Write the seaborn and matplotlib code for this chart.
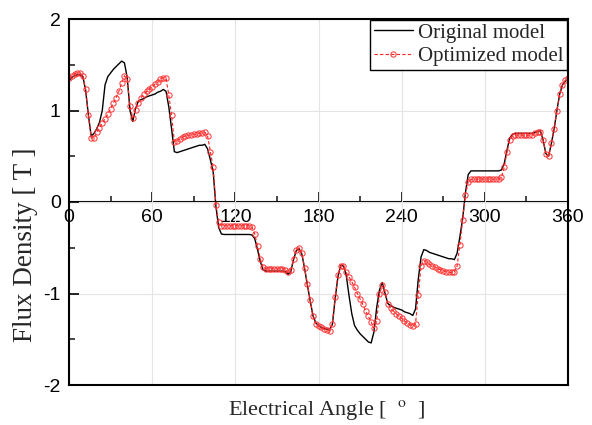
import matplotlib
matplotlib.use("Agg")
import matplotlib.pyplot as plt
from matplotlib.ticker import MultipleLocator
import seaborn as sns

# electrical angle grid (deg), read every 2 degrees
angle = list(range(0, 361, 2))

original = [
    1.33, 1.36, 1.38, 1.39, 1.39, 1.37, 1.22, 0.95, 0.72, 0.75,
    0.80, 0.87, 1.00, 1.28, 1.37, 1.41, 1.45, 1.48, 1.51, 1.54,
    1.52, 1.36, 1.00, 0.88, 1.02, 1.10, 1.12, 1.13, 1.15, 1.16,
    1.17, 1.18, 1.20, 1.21, 1.23, 1.21, 1.04, 0.80, 0.55, 0.54,
    0.55, 0.56, 0.57, 0.58, 0.59, 0.60, 0.61, 0.62, 0.62, 0.63,
    0.58, 0.46, 0.33, -0.05, -0.28, -0.35, -0.355, -0.355, -0.355, -0.355,
    -0.355, -0.355, -0.355, -0.355, -0.355, -0.355, -0.36, -0.40, -0.52, -0.65,
    -0.74, -0.755, -0.755, -0.755, -0.755, -0.755, -0.755, -0.755, -0.76, -0.79,
    -0.76, -0.63, -0.53, -0.51, -0.57, -0.73, -0.91, -1.08, -1.24, -1.32,
    -1.35, -1.37, -1.38, -1.39, -1.39, -1.34, -1.06, -0.82, -0.69, -0.70,
    -0.80, -1.02, -1.22, -1.35, -1.40, -1.44, -1.47, -1.50, -1.53, -1.54,
    -1.42, -1.15, -0.96, -0.88, -1.00, -1.11, -1.13, -1.15, -1.16, -1.17,
    -1.18, -1.20, -1.21, -1.22, -1.24, -1.17, -0.84, -0.60, -0.52, -0.53,
    -0.55, -0.56, -0.57, -0.58, -0.59, -0.60, -0.61, -0.62, -0.62, -0.63,
    -0.56, -0.38, -0.18, 0.10, 0.30, 0.34, 0.34, 0.34, 0.34, 0.34,
    0.34, 0.34, 0.34, 0.34, 0.34, 0.34, 0.35, 0.42, 0.57, 0.70,
    0.74, 0.75, 0.75, 0.75, 0.75, 0.75, 0.75, 0.75, 0.76, 0.77,
    0.78, 0.68, 0.53, 0.50, 0.64, 0.80, 1.00, 1.18, 1.28, 1.32,
    1.34,
]

optimized = [
    1.36, 1.38, 1.40, 1.41, 1.41, 1.38, 1.23, 0.95, 0.70, 0.70,
    0.76, 0.81, 0.86, 0.91, 0.96, 1.02, 1.08, 1.14, 1.21, 1.30,
    1.38, 1.34, 1.05, 0.92, 1.01, 1.08, 1.14, 1.18, 1.21, 1.24,
    1.26, 1.29, 1.31, 1.34, 1.36, 1.35, 1.17, 0.95, 0.66, 0.67,
    0.69, 0.71, 0.72, 0.73, 0.73, 0.74, 0.74, 0.75, 0.75, 0.76,
    0.72, 0.55, 0.38, -0.03, -0.22, -0.26, -0.26, -0.26, -0.26, -0.26,
    -0.26, -0.26, -0.26, -0.26, -0.26, -0.26, -0.27, -0.35, -0.48, -0.62,
    -0.71, -0.73, -0.73, -0.73, -0.73, -0.73, -0.73, -0.73, -0.74, -0.77,
    -0.74, -0.62, -0.52, -0.50, -0.56, -0.72, -0.90, -1.07, -1.25, -1.33,
    -1.35, -1.37, -1.39, -1.40, -1.41, -1.33, -1.04, -0.80, -0.70, -0.70,
    -0.77, -0.82, -0.87, -0.93, -1.00, -1.06, -1.12, -1.19, -1.25, -1.31,
    -1.38, -1.30, -1.01, -0.91, -0.98, -1.11, -1.16, -1.19, -1.22, -1.25,
    -1.27, -1.30, -1.32, -1.34, -1.36, -1.33, -1.02, -0.70, -0.64, -0.66,
    -0.68, -0.70, -0.71, -0.73, -0.74, -0.75, -0.76, -0.77, -0.77, -0.76,
    -0.70, -0.47, -0.20, 0.08, 0.22, 0.25, 0.25, 0.25, 0.25, 0.25,
    0.25, 0.25, 0.25, 0.25, 0.25, 0.25, 0.27, 0.38, 0.55, 0.68,
    0.72, 0.73, 0.73, 0.73, 0.73, 0.73, 0.73, 0.73, 0.75, 0.77,
    0.76, 0.68, 0.53, 0.50, 0.64, 0.80, 1.00, 1.18, 1.28, 1.33,
    1.36,
]

sns.set_theme(style="white")
plt.rcParams["font.family"] = ["Liberation Sans", "DejaVu Sans"]
plt.rcParams["axes.unicode_minus"] = False
plt.rcParams["mathtext.fontset"] = "stix"
serif = ["Liberation Serif", "DejaVu Serif"]

fig = plt.figure(figsize=(5.92, 4.25), dpi=100)
ax = fig.add_axes([69 / 592, 1 - 385 / 425, 499 / 592, 366 / 425])

sns.lineplot(x=angle, y=original, ax=ax, color="black", lw=1.0,
             label="Original model")
sns.lineplot(x=angle, y=optimized, ax=ax, color="#ff2020", lw=0.8,
             linestyle=(0, (3, 2)), marker="o", markersize=3.8,
             markerfacecolor="none", markeredgecolor="#ff3030",
             markeredgewidth=0.7, label="Optimized model")

ax.set_xlim(0, 360)
ax.set_ylim(-2, 2)

# frame
for s in ax.spines.values():
    s.set_visible(True)
    s.set_color("black")
    s.set_linewidth(1.5)

# grid
ax.xaxis.set_major_locator(MultipleLocator(60))
ax.yaxis.set_major_locator(MultipleLocator(1))
ax.yaxis.set_minor_locator(MultipleLocator(0.5))
ax.grid(True, which="major", color="#e4e4e4", lw=0.8)
ax.tick_params(axis="x", which="both", bottom=False, labelbottom=False)
ax.tick_params(axis="y", which="major", direction="in", length=7, width=1.2,
               labelsize=14, pad=6, colors="black")
ax.tick_params(axis="y", which="minor", direction="in", length=4, width=1.2)
ax.tick_params(axis="y", which="both", left=True)

# x axis drawn through y = 0
sec = ax.secondary_xaxis(0.5)
sec.xaxis.set_ticks_position("bottom")
sec.xaxis.set_major_locator(MultipleLocator(60))
sec.xaxis.set_minor_locator(MultipleLocator(30))
for s in sec.spines.values():
    s.set_linewidth(1.5)
    s.set_color("black")
sec.tick_params(axis="x", which="major", direction="in", length=7, width=1.2,
                labelsize=14, pad=5, colors="black", bottom=True, top=False,
                labelbottom=True, labeltop=False)
sec.tick_params(axis="x", which="minor", direction="in", length=4, width=1.2,
                bottom=True, top=False)

ax.set_xlabel("Electrical Angle [  $^{\\mathrm{o}}$  ]", fontsize=16,
              family=serif, va="top")
ax.xaxis.set_label_coords(0.517, -0.035)
ax.set_ylabel("Flux Density [ T ]", fontsize=19.5, family=serif)
ax.yaxis.set_label_coords(-0.063, 0.383)

leg = ax.legend(loc="upper right", prop={"family": serif, "size": 15},
                frameon=True, fancybox=False, framealpha=1, edgecolor="black",
                handlelength=1.9, handletextpad=0.25, labelspacing=0.2,
                borderpad=0.15, borderaxespad=0.05, numpoints=1)
leg.get_frame().set_linewidth(1.0)

fig.savefig("out.png", dpi=100)
